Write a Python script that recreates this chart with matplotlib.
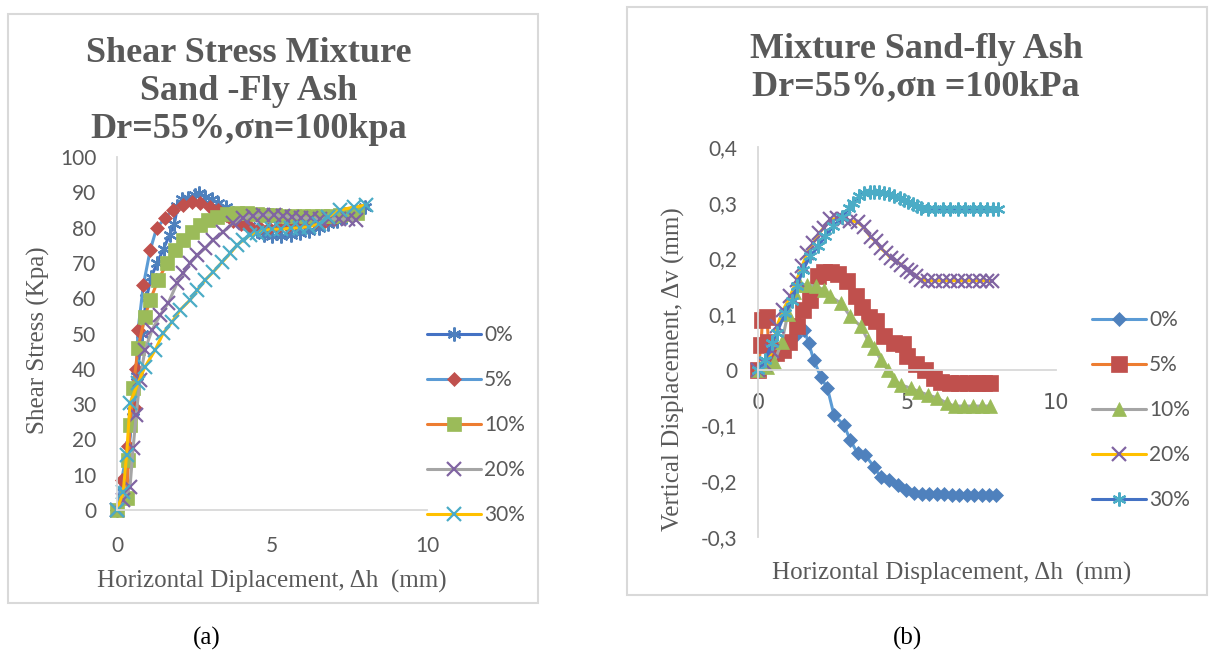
import matplotlib
matplotlib.use("Agg")
import matplotlib.pyplot as plt
from matplotlib.patches import Rectangle

# ---------------- data: (a) shear stress vs horizontal displacement ----------------
labels = ["0%", "5%", "10%", "20%", "30%"]

x0_a = [0, 0.2, 0.35, 0.5, 0.65, 0.8, 0.95, 1.1, 1.3, 1.5, 1.7, 1.85, 1.95, 2.1, 2.3, 2.5,
        2.65, 2.85, 3.05, 3.25, 3.5, 3.75, 4.0, 4.25, 4.5, 4.75, 5.0, 5.3, 5.6, 5.9, 6.2,
        6.5, 6.8, 7.1, 7.4, 7.7, 8.0]
y0_a = [0, 5, 14, 28, 38, 50, 60, 66, 70, 74, 78, 81, 86, 88, 88.5, 89.3, 89.8, 88.8, 88,
        87, 85.8, 84, 82, 80.5, 79, 78, 77.5, 77.5, 78, 78.5, 79, 80, 81, 82, 83, 84.5, 85.8]

x5_a = [0, 0.15, 0.35, 0.58, 0.62, 0.68, 0.85, 1.07, 1.28, 1.55, 1.8, 2.14, 2.42, 2.69, 3.0,
        3.27, 3.5, 3.75, 4.0, 4.3, 4.6, 4.9, 5.2, 5.5, 5.8, 6.1, 6.4, 6.7, 7.0, 7.3, 7.6]
y5_a = [0, 8.5, 18, 28.9, 40, 51, 63.7, 73.6, 79.9, 82.7, 85, 86.4, 87.3, 87, 85.8, 85,
        83.5, 82, 81, 80.2, 79.8, 80, 80.3, 80.5, 81, 81.2, 81.5, 82, 82.5, 83, 84]

x10_a = [0, 0.31, 0.37, 0.42, 0.52, 0.68, 0.9, 1.07, 1.33, 1.62, 1.88, 2.14, 2.43, 2.69,
         2.95, 3.24, 3.56, 3.88, 4.2, 4.5, 4.8, 5.1, 5.4, 5.7, 6.0, 6.3, 6.6, 6.9, 7.2,
         7.5, 7.75]
y10_a = [0, 3.4, 14.2, 24, 34.6, 45.9, 54.7, 59.5, 65.2, 70, 73.6, 76.5, 78.8, 80.7, 82.2,
         83, 83.8, 84, 84, 83.8, 83.6, 83.5, 83.4, 83.3, 83.3, 83.3, 83.3, 83.4, 83.5,
         83.8, 84.2]

x20_a = [0, 0.2, 0.42, 0.52, 0.62, 0.74, 0.9, 1.13, 1.39, 1.65, 1.94, 2.14, 2.36, 2.59,
         2.85, 3.1, 3.43, 3.75, 4.08, 4.4, 4.72, 5.05, 5.35, 5.65, 5.95, 6.25, 6.55, 6.85,
         7.15, 7.45, 7.7]
y20_a = [0, 2.8, 6.5, 17.6, 27, 36.8, 45.3, 51, 55.2, 58.6, 64.3, 67.1, 70, 72.2, 74.2,
         76.5, 78.8, 81.3, 82.7, 83.4, 83.6, 83.5, 83.2, 83, 82.8, 82.6, 82.5, 82.5, 82.5,
         82.3, 82.2]

x30_a = [0, 0.2, 0.31, 0.42, 0.68, 0.9, 1.23, 1.49, 1.78, 2.04, 2.36, 2.59, 2.85, 3.1, 3.4,
         3.66, 3.88, 4.08, 4.3, 4.53, 4.75, 5.0, 5.3, 5.6, 5.9, 6.2, 6.5, 6.8, 7.2, 7.64,
         8.03]
y30_a = [0, 5.1, 15.6, 30.3, 36, 40.5, 45.3, 50.1, 53.3, 56.7, 59.5, 62.3, 65.2, 67.4,
         70.3, 72.8, 75.1, 76.5, 77.9, 78.5, 79.3, 79.5, 79.6, 79.8, 80, 80.3, 81, 83, 85,
         85.8, 86.4]

# ---------------- data: (b) vertical vs horizontal displacement ----------------
x0_b = [0, 0.25, 0.5, 0.75, 1.0, 1.25, 1.55, 1.7, 1.87, 2.1, 2.33, 2.55, 2.88, 3.1, 3.34,
        3.6, 3.89, 4.12, 4.4, 4.7, 4.97, 5.25, 5.5, 5.75, 6.0, 6.25, 6.5, 6.75, 7.0, 7.25,
        7.5, 7.75, 8.0]
y0_b = [0, 0.005, 0.02, 0.03, 0.045, 0.06, 0.072, 0.048, 0.018, -0.012, -0.033, -0.081,
        -0.099, -0.126, -0.15, -0.153, -0.174, -0.193, -0.198, -0.207, -0.216, -0.221,
        -0.222, -0.223, -0.223, -0.223, -0.224, -0.224, -0.224, -0.224, -0.224, -0.224,
        -0.225]

x5_b = [0, 0.1, 0.15, 0.3, 0.35, 0.6, 0.85, 1.05, 1.3, 1.5, 1.75, 2.0, 2.2, 2.45, 2.7,
        3.0, 3.28, 3.5, 3.72, 3.95, 4.22, 4.56, 4.85, 5.0, 5.3, 5.6, 5.9, 6.15, 6.45, 6.75,
        7.05, 7.35, 7.6, 7.8]
y5_b = [0, 0.045, 0.09, 0.095, 0.05, 0.03, 0.035, 0.05, 0.078, 0.108, 0.126, 0.168, 0.175,
        0.175, 0.172, 0.16, 0.132, 0.112, 0.095, 0.088, 0.06, 0.049, 0.047, 0.024, 0.01,
        0.0, -0.014, -0.022, -0.023, -0.023, -0.023, -0.023, -0.023, -0.023]

x10_b = [0, 0.3, 0.55, 0.8, 1.0, 1.2, 1.42, 1.65, 1.93, 2.2, 2.43, 2.77, 3.1, 3.45, 3.68,
         3.89, 4.12, 4.35, 4.57, 4.8, 5.13, 5.4, 5.7, 6.0, 6.35, 6.6, 6.9, 7.2, 7.5, 7.8]
y10_b = [0, 0.005, 0.015, 0.05, 0.1, 0.14, 0.153, 0.153, 0.15, 0.144, 0.132, 0.12, 0.096,
         0.078, 0.054, 0.04, 0.018, 0.0, -0.018, -0.027, -0.033, -0.039, -0.045, -0.05,
         -0.06, -0.065, -0.065, -0.065, -0.065, -0.065]

x20_b = [0, 0.25, 0.48, 0.63, 0.85, 1.08, 1.3, 1.48, 1.65, 1.86, 2.05, 2.2, 2.43, 2.65,
         2.88, 3.1, 3.34, 3.55, 3.78, 3.95, 4.12, 4.3, 4.46, 4.65, 4.8, 5.0, 5.13, 5.3,
         5.47, 5.7, 5.95, 6.2, 6.45, 6.7, 6.95, 7.2, 7.45, 7.7, 7.85]
y20_b = [0, 0.01, 0.033, 0.078, 0.108, 0.132, 0.162, 0.186, 0.21, 0.228, 0.245, 0.255,
         0.27, 0.272, 0.27, 0.268, 0.265, 0.256, 0.238, 0.231, 0.218, 0.21, 0.2, 0.195,
         0.189, 0.18, 0.176, 0.168, 0.162, 0.16, 0.16, 0.16, 0.16, 0.16, 0.16, 0.16, 0.16,
         0.16, 0.16]

x30_b = [0, 0.24, 0.47, 0.63, 0.91, 1.14, 1.3, 1.52, 1.75, 2.03, 2.26, 2.53, 2.83, 3.05,
         3.2, 3.4, 3.55, 3.75, 3.9, 4.05, 4.22, 4.4, 4.56, 4.75, 4.9, 5.05, 5.2, 5.35, 5.47,
         5.7, 5.95, 6.2, 6.45, 6.7, 6.95, 7.2, 7.45, 7.7, 7.9, 8.07]
y30_b = [0, 0.018, 0.048, 0.066, 0.102, 0.123, 0.15, 0.18, 0.204, 0.222, 0.24, 0.258,
         0.274, 0.29, 0.3, 0.312, 0.318, 0.32, 0.32, 0.319, 0.318, 0.315, 0.312, 0.308,
         0.305, 0.302, 0.298, 0.294, 0.29, 0.288, 0.288, 0.288, 0.288, 0.288, 0.288, 0.288,
         0.288, 0.288, 0.288, 0.288]

xticks_a = [0, 5, 10]
yticks_a = [0, 10, 20, 30, 40, 50, 60, 70, 80, 90, 100]
xticks_b = [0, 5, 10]
yticks_b = [-0.3, -0.2, -0.1, 0, 0.1, 0.2, 0.3, 0.4]
yticklabels_b = ["-0,3", "-0,2", "-0,1", "0", "0,1", "0,2", "0,3", "0,4"]

title_a = "Shear Stress Mixture\nSand -Fly Ash\nDr=55%,σn=100kpa"
title_b = "Mixture Sand-fly Ash\nDr=55%,σn =100kPa"

# ---------------- styling ----------------
W, H, DPI = 1210, 655, 100
GREY_TXT = "#595959"
AXIS_LINE = "#D9D9D9"
SERIF = "Liberation Serif"
SANS = "Lato"
STAR = (6, 2, 0)

style_a = [  # line colour, marker, marker colour, marker size
    ("#4472C4", STAR, "#4F81BD", 10),
    ("#5B9BD5", "D", "#C0504D", 7.5),
    ("#ED7D31", "s", "#9BBB59", 9.5),
    ("#A5A5A5", "x", "#8064A2", 10),
    ("#FFC000", "x", "#4BACC6", 10),
]
style_b = [
    ("#5B9BD5", "D", "#4F81BD", 7.5),
    ("#ED7D31", "s", "#C0504D", 11),
    ("#A5A5A5", "^", "#9BBB59", 10.5),
    ("#FFC000", "x", "#8064A2", 10),
    ("#4472C4", STAR, "#4BACC6", 10),
]


def px_box(x0, y0, x1, y1):
    return [x0 / W, 1 - y1 / H, (x1 - x0) / W, (y1 - y0) / H]


def draw_series(ax, xs, ys, styles):
    for (x, y), lab, (lc, mk, mc, ms) in zip(zip(xs, ys), labels, styles):
        open_mk = mk in ("x", STAR)
        ax.plot(x, y, color=lc, lw=2.2, marker=mk, markersize=ms,
                markerfacecolor=mc, markeredgecolor=mc,
                markeredgewidth=1.6 if open_mk else 0.5,
                label=lab, clip_on=False, solid_capstyle="round")


def style_axes(ax):
    for side in ("top", "right"):
        ax.spines[side].set_visible(False)
    for side in ("left", "bottom"):
        ax.spines[side].set_color(AXIS_LINE)
        ax.spines[side].set_linewidth(1.3)
    ax.tick_params(length=0, labelcolor=GREY_TXT, labelsize=15)
    for t in ax.get_xticklabels() + ax.get_yticklabels():
        t.set_fontfamily(SANS)


def add_legend(ax, x_px, y_px):
    leg = ax.legend(loc="upper left", bbox_to_anchor=(x_px / W, 1 - y_px / H),
                    bbox_transform=fig.transFigure, frameon=False, numpoints=1,
                    prop={"family": SANS, "size": 15}, handlelength=2.6,
                    handletextpad=0.15, labelspacing=1.2, borderpad=0,
                    borderaxespad=0)
    for t in leg.get_texts():
        t.set_color(GREY_TXT)


fig = plt.figure(figsize=(W / DPI, H / DPI), dpi=DPI)
fig.patch.set_facecolor("white")

# panel frames
fig.add_artist(Rectangle((8 / W, 1 - 603 / H), 530 / W, 589 / H, transform=fig.transFigure,
                         fill=False, edgecolor=AXIS_LINE, lw=1.5))
fig.add_artist(Rectangle((627 / W, 1 - 595 / H), 580 / W, 588 / H, transform=fig.transFigure,
                         fill=False, edgecolor=AXIS_LINE, lw=1.5))

# ---- panel (a)
ax1 = fig.add_axes(px_box(117, 157, 427, 510))
draw_series(ax1, [x0_a, x5_a, x10_a, x20_a, x30_a], [y0_a, y5_a, y10_a, y20_a, y30_a], style_a)
ax1.set_xlim(0, 10)
ax1.set_ylim(0, 100)
ax1.set_xticks(xticks_a)
ax1.set_yticks(yticks_a)
style_axes(ax1)
ax1.tick_params(axis="x", pad=19)
ax1.tick_params(axis="y", pad=15)
ax1.set_xlabel("Horizontal Diplacement, Δh  (mm)", family=SERIF, fontsize=18,
               color=GREY_TXT, labelpad=10)
ax1.set_ylabel("Shear Stress (Kpa)", family=SERIF, fontsize=18, color=GREY_TXT)
ax1.yaxis.set_label_coords(-0.215, 0.48)
add_legend(ax1, 427, 325)
fig.text(249 / W, 1 - 92 / H, title_a, ha="center", va="center", ma="center",
         family=SERIF, weight="bold", fontsize=26, color=GREY_TXT, linespacing=1.2)

# ---- panel (b)
ax2 = fig.add_axes(px_box(758, 147, 1056, 537))
draw_series(ax2, [x0_b, x5_b, x10_b, x20_b, x30_b], [y0_b, y5_b, y10_b, y20_b, y30_b], style_b)
ax2.set_xlim(0, 10)
ax2.set_ylim(-0.3, 0.4)
ax2.set_xticks(xticks_b)
ax2.set_yticks(yticks_b)
ax2.set_yticklabels(yticklabels_b)
style_axes(ax2)
ax2.spines["bottom"].set_position(("data", 0))
ax2.tick_params(axis="x", pad=17)
ax2.tick_params(axis="y", pad=15)
ax2.set_ylabel("Vertical Displacement, Δv (mm)", family=SERIF, fontsize=18,
               color=GREY_TXT)
ax2.yaxis.set_label_coords(-0.245, 0.43)
fig.text(952 / W, 1 - 573 / H, "Horizontal Displacement, Δh  (mm)", ha="center",
         va="center", family=SERIF, fontsize=18, color=GREY_TXT)
add_legend(ax2, 1092, 310)
fig.text(916 / W, 1 - 68 / H, title_b, ha="center", va="center", ma="center",
         family=SERIF, weight="bold", fontsize=26, color=GREY_TXT, linespacing=1.2)

# panel captions
fig.text(207 / W, 1 - 638 / H, "(a)", ha="center", va="center", family=SERIF,
         fontsize=18, color="black")
fig.text(908 / W, 1 - 638 / H, "(b)", ha="center", va="center", family=SERIF,
         fontsize=18, color="black")

fig.savefig("out.png", dpi=DPI, facecolor="white")
